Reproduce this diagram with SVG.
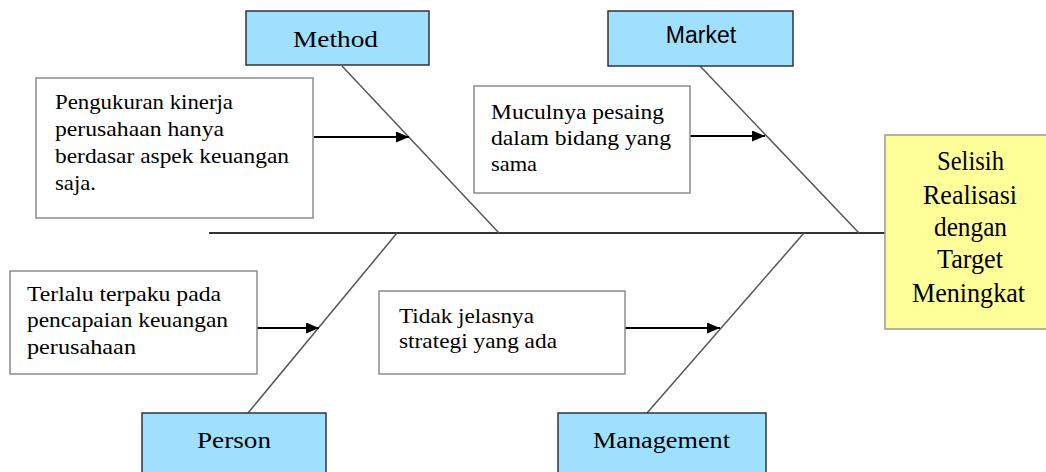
<svg xmlns="http://www.w3.org/2000/svg" width="1046" height="472" viewBox="0 0 1046 472">
<style>
.cat{fill:#A0E0FF;stroke:#333;stroke-width:1.5}
.cause{fill:#fff;stroke:#8c8c8c;stroke-width:1.5}
.effect{fill:#FFFF99;stroke:#999;stroke-width:1.5}
.serif{font-family:"Liberation Serif","Times New Roman",serif;fill:#000}
.sans{font-family:"Liberation Sans",Arial,sans-serif;fill:#000}
.t{font-size:22px}
.h{font-size:24px}
.e{font-size:27px}
.spine{stroke:#555;stroke-width:1.5;fill:none}
.main{stroke:#333;stroke-width:2;fill:none}
.arr{stroke:#000;stroke-width:2;fill:none;marker-end:url(#ah)}
</style>
<defs>
<marker id="ah" markerUnits="userSpaceOnUse" markerWidth="14" markerHeight="12" refX="13" refY="5.5" orient="auto">
<path d="M0,0 L13,5.5 L0,11 z" fill="#000"/>
</marker>
</defs>
<rect width="1046" height="472" fill="#fff"/>
<g id="connectors">
<line class="main" x1="209" y1="233" x2="886" y2="233"/>
<line class="spine" x1="342" y1="66" x2="499" y2="233"/>
<line class="spine" x1="700" y1="66" x2="859" y2="233"/>
<line class="spine" x1="397" y1="233" x2="248" y2="413"/>
<line class="spine" x1="804" y1="233" x2="647" y2="413"/>
<line class="arr" x1="314" y1="137" x2="409" y2="137"/>
<line class="arr" x1="690" y1="136" x2="765" y2="136"/>
<line class="arr" x1="257" y1="328" x2="319" y2="328"/>
<line class="arr" x1="625" y1="328" x2="720" y2="328"/>
</g>
<g id="method">
<rect class="cat" x="246" y="11" width="183" height="54"/>
<text class="serif h" x="293" y="47" textLength="85" lengthAdjust="spacingAndGlyphs">Method</text>
</g>
<g id="market">
<rect class="cat" x="608" y="11" width="185" height="55"/>
<text class="sans" font-size="23" x="701" y="43" text-anchor="middle">Market</text>
</g>
<g id="person">
<rect class="cat" x="142" y="413" width="184" height="70"/>
<text class="serif h" x="197" y="448" textLength="74" lengthAdjust="spacingAndGlyphs">Person</text>
</g>
<g id="management">
<rect class="cat" x="558" y="413" width="208" height="70"/>
<text class="serif h" x="593" y="448" textLength="137" lengthAdjust="spacingAndGlyphs">Management</text>
</g>
<g id="cause-method">
<rect class="cause" x="36" y="78" width="277" height="140"/>
<text class="serif t" x="55" y="109" textLength="178" lengthAdjust="spacingAndGlyphs">Pengukuran kinerja</text>
<text class="serif t" x="55" y="136" textLength="169" lengthAdjust="spacingAndGlyphs">perusahaan hanya</text>
<text class="serif t" x="55" y="163" textLength="234" lengthAdjust="spacingAndGlyphs">berdasar aspek keuangan</text>
<text class="serif t" x="55" y="190" textLength="41" lengthAdjust="spacingAndGlyphs">saja.</text>
</g>
<g id="cause-market">
<rect class="cause" x="474" y="86" width="216" height="107"/>
<text class="serif t" x="491" y="119" textLength="173" lengthAdjust="spacingAndGlyphs">Muculnya pesaing</text>
<text class="serif t" x="491" y="145" textLength="180" lengthAdjust="spacingAndGlyphs">dalam  bidang yang</text>
<text class="serif t" x="491" y="171" textLength="46" lengthAdjust="spacingAndGlyphs">sama</text>
</g>
<g id="cause-person">
<rect class="cause" x="10" y="271" width="247" height="103"/>
<text class="serif t" x="27" y="301" textLength="194" lengthAdjust="spacingAndGlyphs">Terlalu  terpaku pada</text>
<text class="serif t" x="27" y="327" textLength="201" lengthAdjust="spacingAndGlyphs">pencapaian keuangan</text>
<text class="serif t" x="27" y="354" textLength="109" lengthAdjust="spacingAndGlyphs">perusahaan</text>
</g>
<g id="cause-management">
<rect class="cause" x="379" y="291" width="246" height="83"/>
<text class="serif t" x="399" y="323" textLength="135" lengthAdjust="spacingAndGlyphs">Tidak jelasnya</text>
<text class="serif t" x="399" y="348" textLength="158" lengthAdjust="spacingAndGlyphs">strategi yang ada</text>
</g>
<g id="effect">
<rect class="effect" x="885" y="135" width="170" height="194"/>
<text class="serif e" x="937" y="170" textLength="67" lengthAdjust="spacingAndGlyphs">Selisih</text>
<text class="serif e" x="923" y="204" textLength="94" lengthAdjust="spacingAndGlyphs">Realisasi</text>
<text class="serif e" x="934" y="236" textLength="73" lengthAdjust="spacingAndGlyphs">dengan</text>
<text class="serif e" x="937" y="268" textLength="66" lengthAdjust="spacingAndGlyphs">Target</text>
<text class="serif e" x="912" y="302" textLength="113" lengthAdjust="spacingAndGlyphs">Meningkat</text>
</g>
</svg>
